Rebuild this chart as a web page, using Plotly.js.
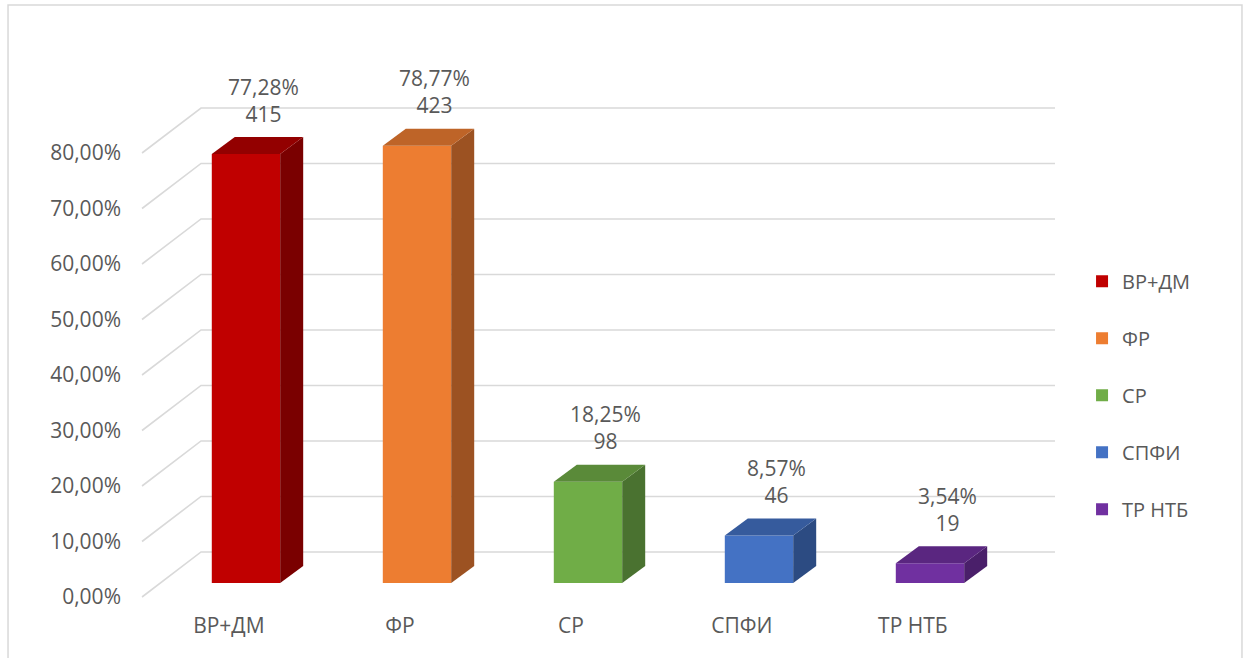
<!DOCTYPE html>
<html>
<head>
<meta charset="utf-8">
<script src="https://cdn.plot.ly/plotly-3.0.1.min.js"></script>
<style>html,body{margin:0;padding:0;background:#fff;}#chart{width:1245px;height:658px;}</style>
</head>
<body>
<div id="chart"></div>
<script>
// ---- data ----
const categories = ['ВР+ДМ', 'ФР', 'СР', 'СПФИ', 'ТР НТБ'];
const percents = [77.28, 78.77, 18.25, 8.57, 3.54];
const counts = [415, 423, 98, 46, 19];
const yTicks = [0, 10, 20, 30, 40, 50, 60, 70, 80];
const yTickText = yTicks.map(t => t.toFixed(2).replace('.', ',') + '%');

// ---- style ----
const frontColors = ['#C00000', '#ED7D31', '#70AD47', '#4472C4', '#7030A0'];
const topColors   = ['#930000', '#BE6428', '#5A8A39', '#365B9D', '#5A2680'];
const sideColors  = ['#7A0000', '#9C5222', '#4A7230', '#2C4B82', '#4A1F6A'];
const textColor = '#595959';
const fontFam = '"Open Sans", "Noto Sans", sans-serif';
const gridColor = '#D9D9D9';
const fontSize = 21;

// geometry constants (axis units)
const barW = 0.4;          // bar front width
const depthX = 0.1345;     // bar depth, x units
const depthY = 3.06;       // bar depth, y units
const wallFrontX = -0.608, wallBackX = -0.263, wallEndX = 4.731;
const wallFrontDy = -2.52, wallBackDy = 5.59;
const xRange = [-0.7251, 4.7602];
const yRange = [-3.063, 97.84];
const labelShiftX = -0.1;
const dataLabelShiftX = 0.1;
const dataLabelDy = 4.4;

const traces = [];

// 3D gridlines (floor diagonal + back wall), drawn below the bars
const gridShapes = yTicks.map(t => ({
  type: 'path', xref: 'x', yref: 'y', layer: 'below',
  path: 'M' + wallFrontX + ',' + (t + wallFrontDy) +
        'L' + wallBackX + ',' + (t + wallBackDy) +
        'L' + wallEndX + ',' + (t + wallBackDy),
  line: {color: gridColor, width: 1.6}
}));

// dummy trace for label axis
traces.push({type: 'scatter', mode: 'markers', x: [0], y: [0], yaxis: 'y2',
  marker: {opacity: 0}, hoverinfo: 'skip', showlegend: false});

categories.forEach((c, i) => {
  const v = percents[i];
  const xl = i - barW / 2, xr = i + barW / 2;
  traces.push({type: 'bar', x: [i], y: [v], width: barW, name: c,
    marker: {color: frontColors[i], line: {width: 0}},
    legendgroup: 'g' + i, hoverinfo: 'name+y'});
  // side face
  traces.push({type: 'scatter', mode: 'lines', fill: 'toself',
    x: [xr, xr + depthX, xr + depthX, xr, xr],
    y: [0, depthY, v + depthY, v, 0],
    fillcolor: sideColors[i], line: {width: 0, color: sideColors[i]},
    hoverinfo: 'skip', showlegend: false, legendgroup: 'g' + i});
  // top face
  traces.push({type: 'scatter', mode: 'lines', fill: 'toself',
    x: [xl, xr, xr + depthX, xl + depthX, xl],
    y: [v, v, v + depthY, v + depthY, v],
    fillcolor: topColors[i], line: {width: 0, color: topColors[i]},
    hoverinfo: 'skip', showlegend: false, legendgroup: 'g' + i});
});

const annotations = categories.map((c, i) => ({
  x: i + dataLabelShiftX, y: percents[i] + dataLabelDy,
  xref: 'x', yref: 'y', yanchor: 'bottom', xanchor: 'center',
  showarrow: false,
  text: percents[i].toFixed(2).replace('.', ',') + '%<br>' + counts[i],
  font: {family: fontFam, size: fontSize, color: textColor}
}));

const layout = {
  width: 1245, height: 658,
  margin: {l: 122, r: 185, t: 40, b: 58},
  paper_bgcolor: '#ffffff', plot_bgcolor: 'rgba(0,0,0,0)',
  separators: ', ',
  barmode: 'overlay',
  showlegend: true,
  font: {family: fontFam, size: fontSize, color: textColor},
  xaxis: {range: xRange, showgrid: false, zeroline: false, showline: false,
    tickmode: 'array', tickvals: categories.map((c, i) => i + labelShiftX),
    ticktext: categories, ticks: '', ticklabelstandoff: 11,
    tickfont: {family: fontFam, size: fontSize, color: textColor}, fixedrange: true},
  yaxis: {range: yRange, showgrid: false, zeroline: false, showline: false,
    showticklabels: false, ticks: '', fixedrange: true},
  yaxis2: {overlaying: 'y', side: 'left',
    range: [yRange[0] - wallFrontDy, yRange[1] - wallFrontDy],
    tickmode: 'array', tickvals: yTicks, ticktext: yTickText,
    showgrid: false, zeroline: false, showline: false, ticks: '',
    tickfont: {family: fontFam, size: fontSize, color: textColor}, fixedrange: true},
  legend: {x: 1.0235, xanchor: 'left', y: 0.604, yanchor: 'top',
    traceorder: 'grouped', tracegroupgap: 28,
    font: {family: fontFam, size: 20, color: textColor}, bgcolor: 'rgba(0,0,0,0)'},
  annotations: annotations,
  shapes: gridShapes.concat([{type: 'rect', xref: 'paper', yref: 'paper',
    x0: -0.1215, x1: 1.194, y0: -0.13, y1: 1.0625,
    line: {color: gridColor, width: 1.5}, fillcolor: 'rgba(0,0,0,0)', layer: 'below'}])
};

Plotly.newPlot('chart', traces, layout, {displayModeBar: false, staticPlot: true});
</script>
</body>
</html>
